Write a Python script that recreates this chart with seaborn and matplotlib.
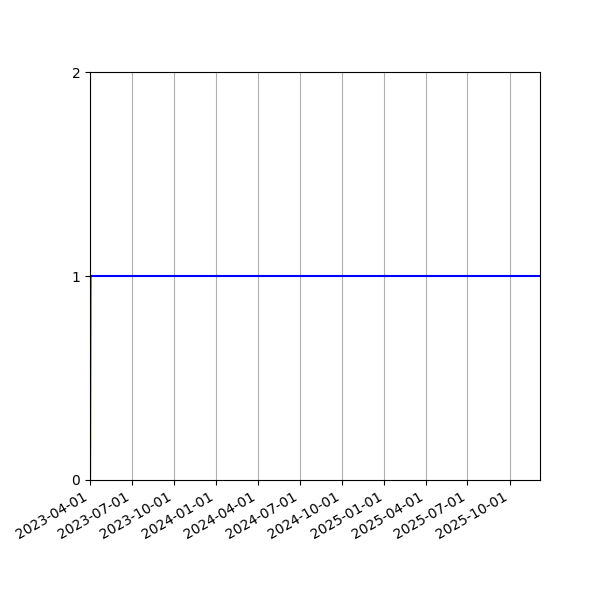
import pandas as pd
import matplotlib
matplotlib.use("Agg")
import matplotlib.pyplot as plt
import matplotlib.dates as mdates
import seaborn as sns

dates = ["2023-04-01", "2023-04-02", "2025-12-06"]
values = [0, 1, 1]

df = pd.DataFrame({"date": pd.to_datetime(dates), "value": values})

fig, ax = plt.subplots(figsize=(6, 6), dpi=100)
sns.lineplot(x="date", y="value", data=df, ax=ax, color="blue", linewidth=1.5)
ax.set_xlim(df["date"].min(), df["date"].max())
ax.set_ylim(0, 2)
ax.set_yticks([0, 1, 2])
ax.xaxis.set_major_locator(mdates.MonthLocator(bymonth=[1, 4, 7, 10]))
ax.xaxis.set_major_formatter(mdates.DateFormatter("%Y-%m-%d"))
ax.grid(axis="x", color="#b0b0b0")
ax.set_xlabel("")
ax.set_ylabel("")
fig.autofmt_xdate()
fig.subplots_adjust(left=0.15, right=0.9, top=0.88, bottom=0.2)
fig.savefig("out.png")
